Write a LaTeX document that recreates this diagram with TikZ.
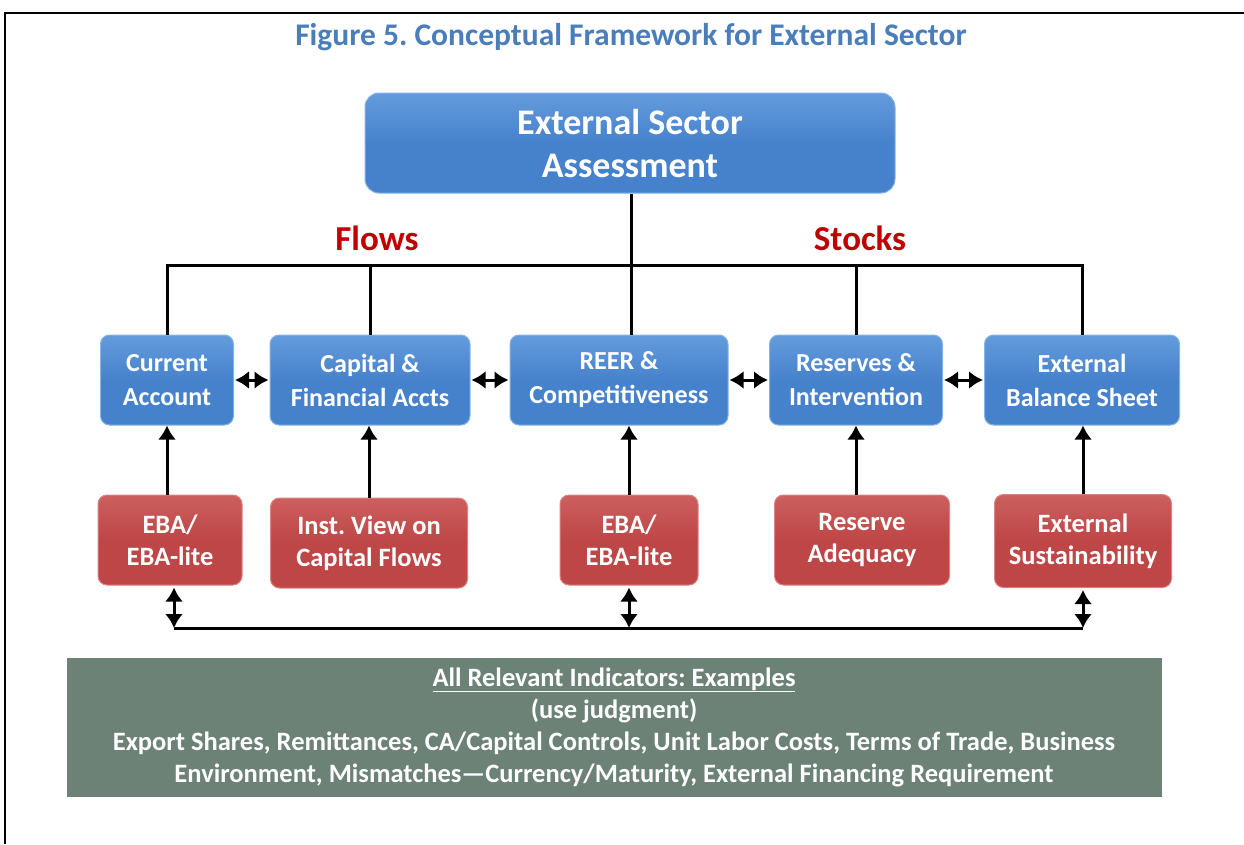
\documentclass[tikz,border=0pt]{standalone}
\usepackage{fontspec}
\setmainfont{Carlito}
\usetikzlibrary{arrows.meta,calc}
\definecolor{ttl}{RGB}{74,126,187}
\definecolor{bbox}{RGB}{70,130,204}
\definecolor{btop}{RGB}{100,155,220}
\definecolor{bedge}{RGB}{130,180,232}
\definecolor{rbox}{RGB}{190,70,70}
\definecolor{rtop}{RGB}{205,95,95}
\definecolor{redge}{RGB}{220,130,130}
\definecolor{gbox}{RGB}{108,130,118}
\definecolor{flowred}{RGB}{192,0,0}
\tikzset{
  bluebox/.style={draw=bedge, line width=1pt, top color=btop, bottom color=bbox, middle color=bbox, rounded corners=9pt, text=white,
    font=\bfseries\fontsize{26}{34}\selectfont, align=center, minimum height=90pt, inner sep=0pt},
  redbox/.style={draw=redge, line width=1pt, top color=rtop, bottom color=rbox, middle color=rbox, rounded corners=9pt, text=white,
    font=\bfseries\fontsize{26.5}{32}\selectfont, align=center, minimum height=90pt, inner sep=0pt},
  conn/.style={line width=3pt, black},
  arr/.style={conn, -{Latex[length=14pt,width=18pt]}},
  darr/.style={conn, {Latex[length=14pt,width=18pt]}-{Latex[length=14pt,width=18pt]}},
}
\begin{document}
\frenchspacing
\begin{tikzpicture}[x=1pt,y=-1pt]
\useasboundingbox (0,0) rectangle (1244,844);
\fill[white] (0,0) rectangle (1244,844);
\draw[line width=2.2pt] (5,844) -- (5,13) -- (1244,13);

\node[text=ttl, font=\bfseries\fontsize{31.5}{36}\selectfont] (title) at (631,37) {Figure 5. Conceptual Framework for External Sector};

\node[bluebox, minimum width=530pt, minimum height=100pt, rounded corners=14pt,
  font=\bfseries\fontsize{36}{43}\selectfont] (esa) at (630,143) {External Sector\\Assessment};

\node[text=flowred, font=\bfseries\fontsize{35}{40}\selectfont] (flows) at (377,238) {Flows};
\node[text=flowred, font=\bfseries\fontsize{35}{40}\selectfont] (stocks) at (860,238) {Stocks};

\node[bluebox, minimum width=133pt] (b1) at (167,380) {Current\\Account};
\node[bluebox, minimum width=200pt] (b2) at (370,380) {Capital \&\\Financial Accts};
\node[bluebox, minimum width=218pt] (b3) at (619,380) {REER \&\\Competitiveness};
\node[bluebox, minimum width=173pt] (b4) at (856,380) {Reserves \&\\Intervention};
\node[bluebox, minimum width=195pt] (b5) at (1082,380) {External\\Balance Sheet};

\node[redbox, minimum width=144pt] (r1) at (170,540) {EBA/\\EBA-lite};
\node[redbox, minimum width=197pt] (r2) at (369,543) {Inst. View on\\Capital Flows};
\node[redbox, minimum width=138pt] (r3) at (629,540) {EBA/\\EBA-lite};
\node[redbox, minimum width=175pt] (r4) at (862,540) {Reserve\\Adequacy};
\node[redbox, minimum width=177pt, minimum height=93pt] (r5) at (1083,541) {External\\Sustainability};

\node[fill=gbox, minimum width=1095pt, minimum height=139pt, inner sep=0pt, text=white,
  align=center, font=\bfseries\fontsize{26.5}{32}\selectfont] (ind) at (614,727)
  {\underline{All Relevant Indicators: Examples}\\(use judgment)\\Export Shares, Remittances, CA/Capital Controls, Unit Labor Costs, Terms of Trade, Business\\Environment, Mismatches---Currency/Maturity, External Financing Requirement};

% tree
\coordinate (hb) at (631,265);
\draw[conn] (esa.south -| hb) -- (hb);
\draw[conn] (b1.north) |- (hb) -| (b5.north);
\draw[conn] (b2.north) -- (b2.north |- hb);
\draw[conn] (hb) -- (hb |- b3.north);
\draw[conn] (b4.north) -- (b4.north |- hb);

% horizontal double arrows
\draw[darr, shorten <=1pt, shorten >=1pt] (b1.east) -- (b2.west);
\draw[darr, shorten <=1pt, shorten >=1pt] (b2.east) -- (b3.west);
\draw[darr, shorten <=1pt, shorten >=1pt] (b3.east) -- (b4.west);
\draw[darr, shorten <=1pt, shorten >=1pt] (b4.east) -- (b5.west);

% up arrows
\draw[arr] (r1.north -| b1.south) -- (b1.south);
\draw[arr] (r2.north) -- (r2.north |- b2.south);
\draw[arr] (r3.north) -- (r3.north |- b3.south);
\draw[arr] (r4.north -| b4.south) -- (b4.south);
\draw[arr] (r5.north) -- (r5.north |- b5.south);

% bottom connection
\coordinate (bl) at (174,628);
\draw[darr, shorten <=2pt] (r1.south -| bl) -- (bl);
\draw[darr, shorten <=2pt] (r3.south) -- (r3.south |- bl);
\draw[darr, shorten <=2pt] (r5.south) -- (r5.south |- bl);
\draw[conn] (bl) -- (bl -| r5.south);
\end{tikzpicture}
\end{document}
